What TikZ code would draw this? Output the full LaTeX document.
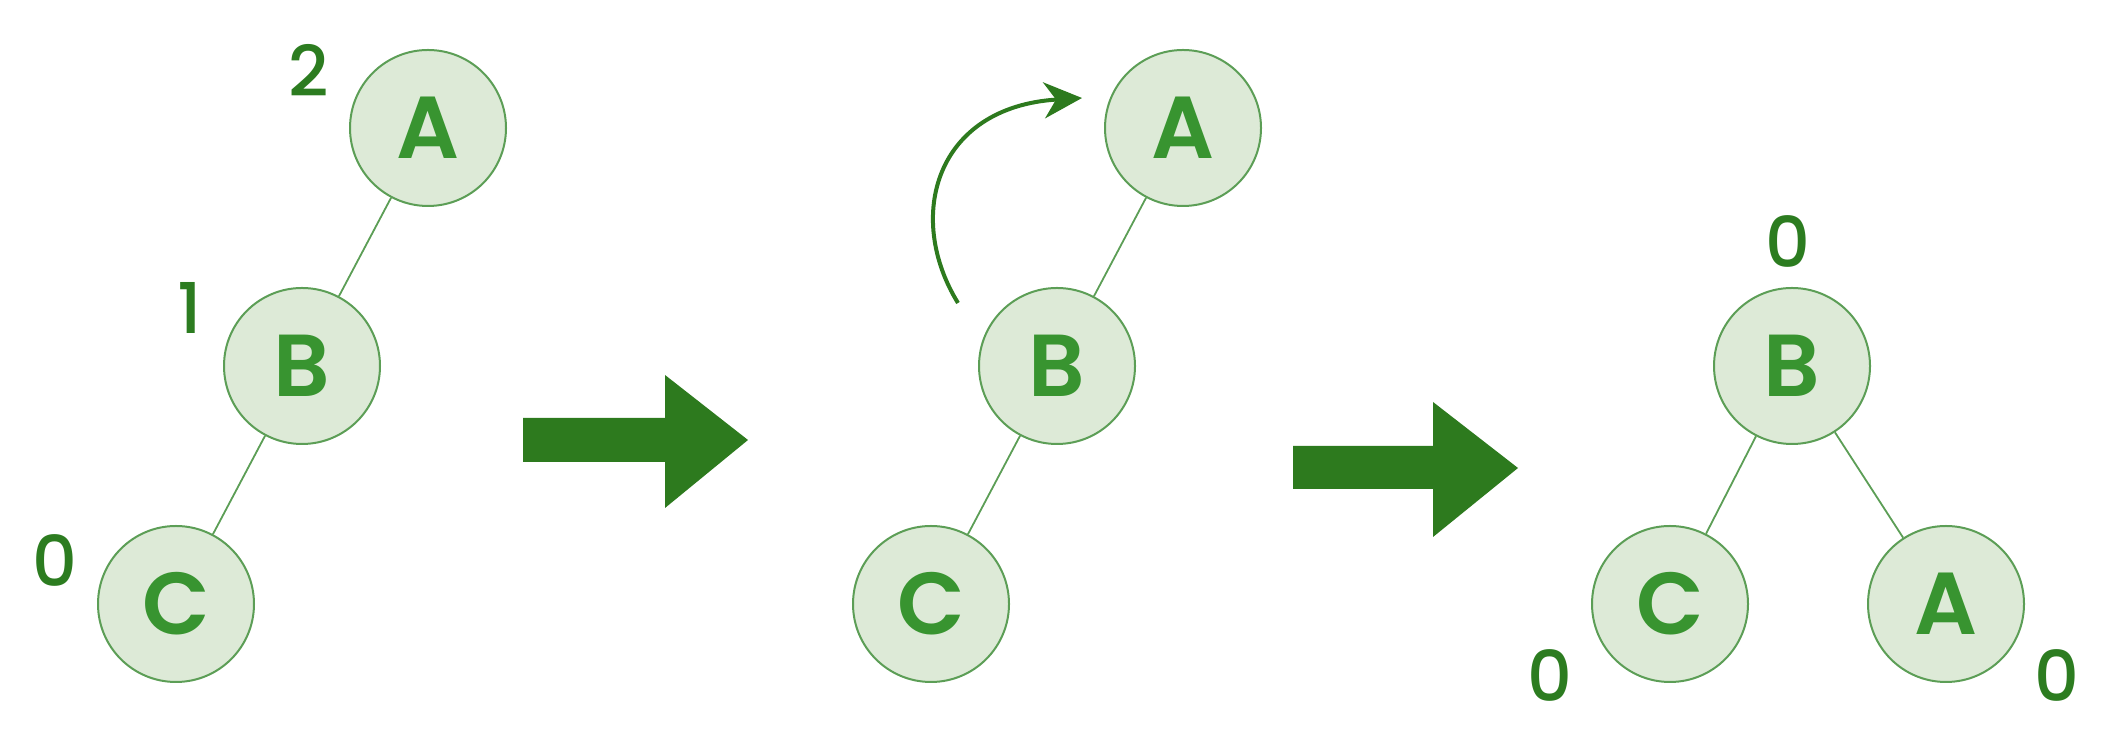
\documentclass[tikz,border=0pt]{standalone}
\usepackage{fontspec}
\setmainfont{Poppins}
\newfontfamily\letterfont{Poppins SemiBold}
\newfontfamily\numfont{Poppins Medium}
\usetikzlibrary{arrows.meta,positioning}
\definecolor{txtgreen}{RGB}{56,148,48}
\definecolor{numgreen}{RGB}{44,124,32}
\definecolor{arrgreen}{RGB}{45,122,30}
\definecolor{nodefill}{RGB}{221,234,215}
\definecolor{nodeline}{RGB}{92,158,86}
\tikzset{
  tnode/.style  = {circle, draw=nodeline, line width=1pt, fill=nodefill, minimum size=78pt,
                  inner sep=0pt, text=txtgreen, font=\letterfont\fontsize{44}{44}\selectfont},
  bal/.style    = {text=numgreen, inner sep=0pt, font=\numfont\fontsize{35}{35}\selectfont},
  link/.style   = {draw=nodeline, line width=0.9pt},
  bigarrow/.style = {fill=arrgreen}
}

\begin{document}
\begin{tikzpicture}[x=0.5pt,y=0.5pt,node distance=119pt and 63pt,on grid]
\useasboundingbox (0,0) rectangle (2114,742);
% unbalanced tree
\node[tnode] (a1) at (428,614) {A};
\node[tnode, below left=of a1] (b1) {B};
\node[tnode, below left=of b1] (c1) {C};
\draw[link] (a1) -- (b1) (b1) -- (c1);
\node[bal] (h1) at (309,672) {2};
\node[bal] (h2) at (190,434) {1};
\node[bal] (h3) at (55,181) {0};
% first step
\fill[bigarrow] (523,280) -- (665,280) -- (665,234) -- (748,302)
	-- (665,367) -- (665,324) -- (523,324) -- cycle;
% rotation
\node[tnode] (a2) at (1183,614) {A};
\node[tnode, below left=of a2] (b2) {B};
\node[tnode, below left=of b2] (c2) {C};
\draw[link] (a2) -- (b2) (b2) -- (c2);
\coordinate (r1) at (958,439);
\coordinate (r2) at (1082,644);
\draw[arrgreen, line width=2pt, -{Stealth[length=19pt,width=18pt,inset=6pt]}]
	(r1) .. controls (905,525) and (935,635) .. (r2);
% second step
\fill[bigarrow] (1293,253) -- (1433,253) -- (1433,205) -- (1518,274)
	-- (1433,340) -- (1433,296) -- (1293,296) -- cycle;
% balanced tree
\node[tnode] (b3) at (1792,376) {B};
\node[tnode, below left=119pt and 61pt of b3] (c3) {C};
\node[tnode, below right=119pt and 77pt of b3] (a3) {A};
\draw[link] (b3) -- (c3) (b3) -- (a3);
\node[bal] (h4) at (1788,500) {0};
\node[bal] (h5) at (1550,66) {0};
\node[bal] (h6) at (2057,66) {0};
\end{tikzpicture}
\end{document}
